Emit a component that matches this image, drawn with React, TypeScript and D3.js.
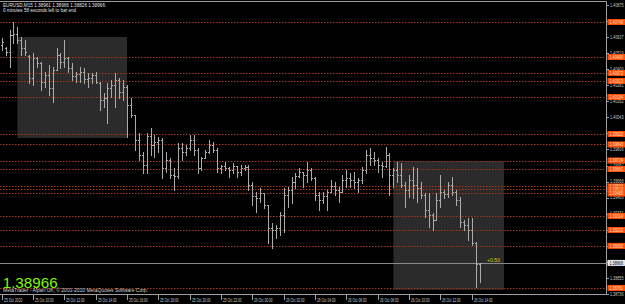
import React from "react";
import * as d3 from "d3";

const W = 625;
const H = 304;

const titleLine = "EURUSD,M15  1.38961 1.38966 1.38826 1.38966";
const subtitleLine = "0 minutes 58 seconds left to bar end";
const footerLine = "MetaTrader - Alpari UK, © 2001-2010 MetaQuotes Software Corp.";
const lastPrice = 1.38966;
const spreadText = "+0.50";

const opens = [
  1.40579,1.40557,1.40527,1.40653,1.40660,1.40616,1.40557,1.40498,1.40335,1.40483,
  1.40446,1.40305,1.40357,1.40261,1.40394,1.40505,1.40453,1.40483,1.40409,1.40350,
  1.40364,1.40379,1.40327,1.40335,1.40357,1.40298,1.40172,1.40187,1.40261,1.40283,
  1.40320,1.40231,1.40268,1.40135,1.40061,1.39876,1.39765,1.39691,1.39906,1.39839,
  1.39861,1.39876,1.39669,1.39728,1.39617,1.39610,1.39817,1.39787,1.39817,1.39876,
  1.39802,1.39669,1.39743,1.39787,1.39839,1.39802,1.39669,1.39684,1.39669,1.39654,
  1.39684,1.39639,1.39669,1.39676,1.39543,1.39462,1.39447,1.39484,1.39395,1.39225,
  1.39210,1.39225,1.39321,1.39469,1.39506,1.39565,1.39610,1.39639,1.39617,1.39654,
  1.39595,1.39469,1.39432,1.39462,1.39491,1.39536,1.39506,1.39491,1.39580,1.39595,
  1.39580,1.39565,1.39580,1.39654,1.39765,1.39743,1.39728,1.39691,1.39684,1.39765,
  1.39617,1.39654,1.39617,1.39543,1.39506,1.39580,1.39543,1.39521,1.39469,1.39358,
  1.39321,1.39284,1.39432,1.39491,1.39476,1.39543,1.39491,1.39432,1.39269,1.39247,
  1.39210,1.39114,1.38961,
];
const highs = [
  1.40631,1.40564,1.40690,1.40749,1.40712,1.40638,1.40616,1.40505,1.40520,1.40490,
  1.40453,1.40379,1.40431,1.40416,1.40557,1.40520,1.40616,1.40490,1.40446,1.40379,
  1.40416,1.40409,1.40372,1.40372,1.40379,1.40305,1.40224,1.40298,1.40320,1.40372,
  1.40335,1.40320,1.40283,1.40187,1.40061,1.39928,1.39787,1.39928,1.39965,1.39913,
  1.39898,1.39891,1.39787,1.39743,1.39669,1.39854,1.39854,1.39839,1.39913,1.39913,
  1.39817,1.39750,1.39802,1.39876,1.39861,1.39817,1.39691,1.39713,1.39676,1.39706,
  1.39684,1.39691,1.39691,1.39691,1.39565,1.39491,1.39521,1.39484,1.39395,1.39262,
  1.39247,1.39343,1.39521,1.39528,1.39602,1.39632,1.39669,1.39639,1.39713,1.39669,
  1.39602,1.39491,1.39491,1.39506,1.39580,1.39565,1.39528,1.39617,1.39654,1.39632,
  1.39639,1.39595,1.39676,1.39802,1.39817,1.39787,1.39743,1.39713,1.39824,1.39780,
  1.39669,1.39713,1.39706,1.39565,1.39617,1.39676,1.39669,1.39565,1.39484,1.39484,
  1.39336,1.39484,1.39617,1.39506,1.39565,1.39602,1.39506,1.39454,1.39284,1.39299,
  1.39299,1.39121,1.38966,
];
const lows = [
  1.40542,1.40505,1.40416,1.40594,1.40594,1.40505,1.40505,1.40298,1.40283,1.40416,
  1.40246,1.40268,1.40209,1.40157,1.40394,1.40409,1.40416,1.40379,1.40320,1.40305,
  1.40305,1.40298,1.40268,1.40298,1.40298,1.40098,1.40120,1.40002,1.40194,1.40120,
  1.40187,1.40172,1.39898,1.40046,1.39802,1.39728,1.39632,1.39632,1.39765,1.39750,
  1.39787,1.39595,1.39639,1.39595,1.39506,1.39595,1.39728,1.39765,1.39802,1.39765,
  1.39632,1.39654,1.39743,1.39780,1.39787,1.39639,1.39632,1.39654,1.39602,1.39632,
  1.39602,1.39617,1.39654,1.39506,1.39395,1.39343,1.39417,1.39373,1.39114,1.39077,
  1.39151,1.39173,1.39195,1.39380,1.39410,1.39521,1.39602,1.39528,1.39565,1.39580,
  1.39432,1.39358,1.39410,1.39358,1.39491,1.39469,1.39417,1.39491,1.39528,1.39528,
  1.39521,1.39491,1.39558,1.39632,1.39691,1.39691,1.39639,1.39602,1.39676,1.39469,
  1.39528,1.39565,1.39528,1.39380,1.39454,1.39447,1.39417,1.39447,1.39306,1.39232,
  1.39210,1.39284,1.39380,1.39447,1.39454,1.39469,1.39395,1.39232,1.39210,1.39136,
  1.39099,1.38788,1.38826,
];
const closes = [
  1.40601,1.40527,1.40653,1.40660,1.40616,1.40557,1.40527,1.40335,1.40483,1.40446,
  1.40305,1.40357,1.40261,1.40394,1.40505,1.40453,1.40483,1.40409,1.40350,1.40364,
  1.40379,1.40327,1.40335,1.40357,1.40305,1.40172,1.40187,1.40261,1.40283,1.40320,
  1.40231,1.40268,1.40135,1.40061,1.39876,1.39765,1.39691,1.39906,1.39839,1.39861,
  1.39876,1.39669,1.39728,1.39617,1.39610,1.39817,1.39787,1.39817,1.39876,1.39802,
  1.39669,1.39743,1.39787,1.39839,1.39802,1.39669,1.39684,1.39669,1.39654,1.39684,
  1.39639,1.39669,1.39676,1.39543,1.39462,1.39447,1.39484,1.39395,1.39225,1.39210,
  1.39225,1.39321,1.39469,1.39506,1.39565,1.39610,1.39639,1.39617,1.39654,1.39595,
  1.39469,1.39432,1.39462,1.39491,1.39536,1.39506,1.39491,1.39580,1.39595,1.39580,
  1.39565,1.39580,1.39654,1.39765,1.39743,1.39728,1.39691,1.39684,1.39765,1.39617,
  1.39654,1.39617,1.39543,1.39506,1.39580,1.39543,1.39521,1.39469,1.39358,1.39321,
  1.39284,1.39432,1.39491,1.39476,1.39543,1.39491,1.39432,1.39269,1.39247,1.39210,
  1.39114,1.38961,1.38966,
];

const timeLabels = [
  "25 Oct 2010","25 Oct 10:00","25 Oct 12:00","25 Oct 14:00","25 Oct 16:00",
  "25 Oct 18:00","25 Oct 20:00","25 Oct 22:00","26 Oct 00:00","26 Oct 02:00",
  "26 Oct 04:00","26 Oct 06:00","26 Oct 08:00","26 Oct 10:00","26 Oct 12:00",
  "26 Oct 14:00",
];
const timeLabelBars = [0, 8, 16, 24, 32, 40, 48, 56, 64, 72, 80, 88, 96, 104, 112, 120];

const priceTicks = [
  1.40875,1.40756,1.40637,1.40519,1.40400,1.40281,1.40162,1.40043,1.39925,1.39806,
  1.39687,1.39568,1.39450,1.39331,1.39212,1.39093,1.38974,1.38855,1.38736,
];

const levelPrices = [
  1.40749,1.40490,1.40372,1.40313,1.40194,1.39920,1.39843,1.39724,1.39661,
  1.39532,1.39510,1.39480,1.39314,1.39210,1.39092,1.38781,
];

const boxStartBars = [4, 100];
const boxEndBars = [32, 128.25];
const boxTops = [1.40638, 1.39721];
const boxBottoms = [1.39891, 1.38766];

const PLOT_RIGHT = 606;
const PLOT_TOP = 1.5;
const PLOT_BOTTOM = 294.5;

const x = d3.scaleLinear().domain([0, 120]).range([1.7, 471.7]);
const y = d3.scaleLinear().domain([1.38736, 1.40875]).range([294, 5]);
const fmt = d3.format(".5f");

const FONT = "'Liberation Sans', Arial, sans-serif";

export default function App() {
  const px = (i: number) => Math.round(x(i)) + 0.5;
  const py = (p: number) => Math.round(y(p)) + 0.5;

  return (
    <svg
      width={W}
      height={H}
      style={{ position: "absolute", left: 0, top: 0, background: "#000", display: "block" }}
    >
      <rect x={0} y={0} width={W} height={H} fill="#000" />

      {boxStartBars.map((b, k) => (
        <rect
          key={"box" + k}
          x={x(b)}
          y={y(boxTops[k])}
          width={x(boxEndBars[k]) - x(b)}
          height={y(boxBottoms[k]) - y(boxTops[k])}
          fill="#2b2b2b"
        />
      ))}

      {levelPrices.map((p, k) => (
        <line
          key={"lv" + k}
          x1={0}
          x2={PLOT_RIGHT}
          y1={py(p)}
          y2={py(p)}
          stroke="#a8361a"
          strokeWidth={1}
          strokeDasharray="1.5 1.5"
        />
      ))}

      <line x1={0} x2={PLOT_RIGHT} y1={py(lastPrice)} y2={py(lastPrice)} stroke="#8a8a8a" strokeWidth={1} />

      {highs.map((h, i) => {
        const cx = px(i);
        return (
          <g key={"bar" + i} stroke="#ababab" strokeWidth={1}>
            <line x1={cx} x2={cx} y1={Math.round(y(h))} y2={Math.round(y(lows[i])) + 1} />
            <line x1={cx - 1.5} x2={cx} y1={py(opens[i])} y2={py(opens[i])} />
            <line x1={cx} x2={cx + 1.5} y1={py(closes[i])} y2={py(closes[i])} />
          </g>
        );
      })}

      <line x1={0} x2={PLOT_RIGHT} y1={PLOT_TOP} y2={PLOT_TOP} stroke="#a0a0a0" />
      <line x1={0} x2={PLOT_RIGHT + 0.5} y1={PLOT_BOTTOM} y2={PLOT_BOTTOM} stroke="#a0a0a0" />
      <line x1={PLOT_RIGHT + 0.5} x2={PLOT_RIGHT + 0.5} y1={PLOT_TOP} y2={PLOT_BOTTOM} stroke="#a0a0a0" />

      {priceTicks.map((p, k) => (
        <g key={"pt" + k}>
          <line x1={PLOT_RIGHT + 1} x2={PLOT_RIGHT + 3} y1={py(p)} y2={py(p)} stroke="#a0a0a0" />
          <text
            x={610}
            y={y(p) + 1.7}
            fontSize={4.8}
            fontFamily={FONT}
            fill="#c8c8c8"
            textLength={13.5}
            lengthAdjust="spacingAndGlyphs"
          >
            {fmt(p)}
          </text>
        </g>
      ))}

      {levelPrices.map((p, k) => (
        <g key={"ll" + k}>
          <rect x={607.5} y={y(p) - 3} width={17.5} height={6} fill="#ff4c0c" />
          <text
            x={609.5}
            y={y(p) + 1.8}
            fontSize={4.8}
            fontFamily={FONT}
            fill="#ffe2d0"
            textLength={13.5}
            lengthAdjust="spacingAndGlyphs"
          >
            {fmt(p)}
          </text>
        </g>
      ))}

      <rect x={607.5} y={y(lastPrice) - 3} width={17.5} height={6} fill="#e8e8e8" />
      <text
        x={609.5}
        y={y(lastPrice) + 1.8}
        fontSize={4.8}
        fontFamily={FONT}
        fill="#000"
        textLength={13.5}
        lengthAdjust="spacingAndGlyphs"
      >
        {fmt(lastPrice)}
      </text>

      {timeLabels.map((t, k) => {
        const tx = px(timeLabelBars[k]);
        return (
          <g key={"tl" + k}>
            <line x1={tx} x2={tx} y1={295} y2={300} stroke="#a0a0a0" />
            <text
              x={tx + 1.5}
              y={301.5}
              fontSize={4.6}
              fontFamily={FONT}
              fill="#c8c8c8"
              textLength={18.5}
              lengthAdjust="spacingAndGlyphs"
            >
              {t}
            </text>
          </g>
        );
      })}

      <text x={3} y={6.8} fontSize={4.8} fontFamily={FONT} fill="#e0e0e0" textLength={102} lengthAdjust="spacingAndGlyphs">
        {titleLine}
      </text>
      <text x={3} y={12} fontSize={4.8} fontFamily={FONT} fill="#e0e0e0" textLength={73} lengthAdjust="spacingAndGlyphs">
        {subtitleLine}
      </text>

      <text x={487} y={261.5} fontSize={5} fontFamily={FONT} fill="#d8d800" textLength={13} lengthAdjust="spacingAndGlyphs">
        {spreadText}
      </text>

      <text x={2.7} y={287.5} fontSize={14.5} fontFamily={FONT} fill="#7cfc00" textLength={55} lengthAdjust="spacingAndGlyphs">
        {fmt(lastPrice)}
      </text>

      <text x={3} y={292} fontSize={4.6} fontFamily={FONT} fill="#d0d0d0" textLength={145} lengthAdjust="spacingAndGlyphs">
        {footerLine}
      </text>
    </svg>
  );
}
